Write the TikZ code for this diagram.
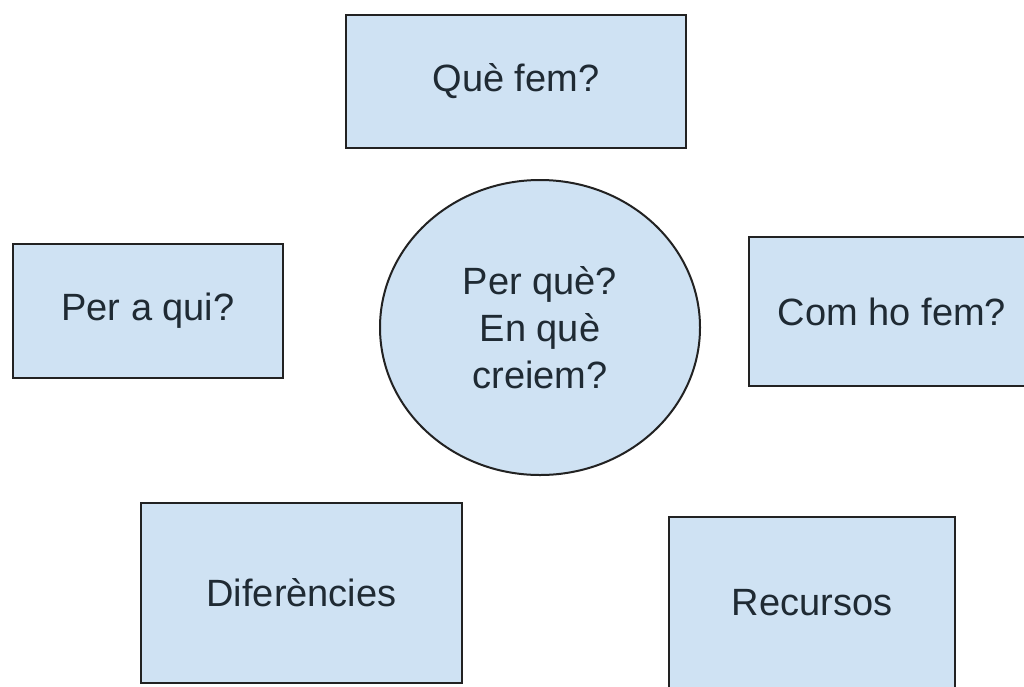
\documentclass[tikz,border=0pt]{standalone}
\usepackage{fontspec}
\setmainfont{Liberation Sans}
\usetikzlibrary{shapes.geometric}
\definecolor{boxfill}{HTML}{CFE2F3}
\definecolor{boxline}{HTML}{222222}
\definecolor{txt}{HTML}{1F2A33}
\begin{document}
\begin{tikzpicture}[x=1pt,y=-1pt,
  qbox/.style={draw=boxline,fill=boxfill,line width=2pt,inner sep=0pt,
    font=\fontsize{38}{47}\selectfont,text=txt},
  qcircle/.style={ellipse,draw=boxline,fill=boxfill,line width=2pt,inner sep=0pt,
    font=\fontsize{38}{47}\selectfont,text=txt,align=center}]
\useasboundingbox[fill=white] (0,0) rectangle (1024,686);
\node[qbox,minimum width=340pt,minimum height=133pt] (que) at (516,81.5) {Què fem?};
\node[qbox,minimum width=270pt,minimum height=134pt] (qui) at (148,311) {Per a qui?};
\node[qcircle,minimum width=320pt,minimum height=295pt] (perque) at (540,327.5) {Per què?\\En què\\creiem?};
\node[qbox,minimum width=286pt,minimum height=149pt] (com) at (892,311.5) {Com ho fem?};
\node[qbox,minimum width=321pt,minimum height=180pt] (dif) at (301.5,593) {Diferències};
\node[qbox,minimum width=286pt,minimum height=172pt] (rec) at (812,603) {Recursos};
\end{tikzpicture}
\end{document}
